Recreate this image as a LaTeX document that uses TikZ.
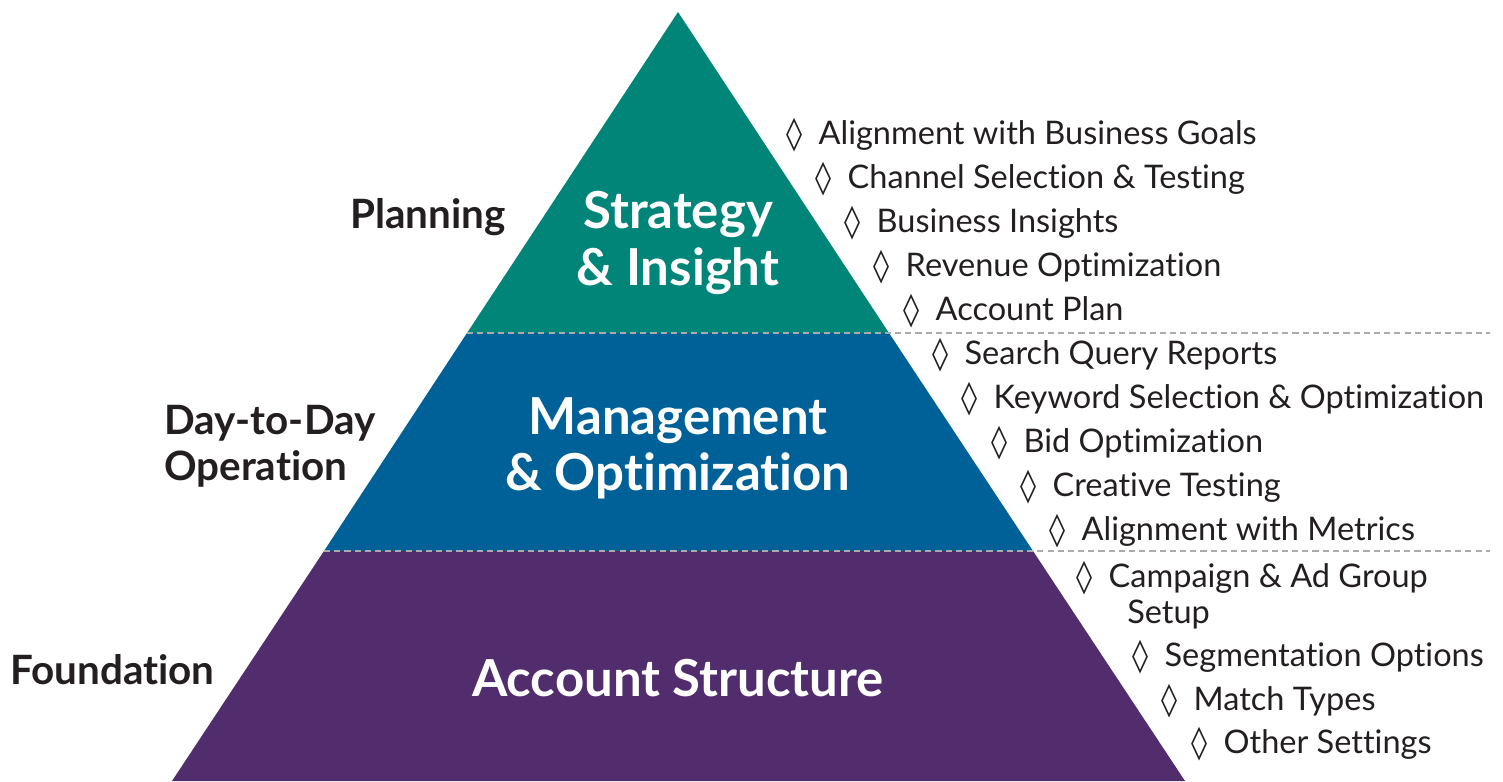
\documentclass[tikz,border=0pt]{standalone}
\usepackage{fontspec}
\setmainfont{Lato}[Ligatures=NoCommon]
\newfontfamily\symfont{DejaVu Sans}
\definecolor{tealS}{RGB}{0,133,120}
\definecolor{blueM}{RGB}{0,97,153}
\definecolor{purpleA}{RGB}{82,45,109}
\definecolor{inkD}{RGB}{35,31,32}
\definecolor{dashG}{RGB}{170,170,170}
\usetikzlibrary{positioning}
\newcommand{\dia}{{\symfont\char"25CA}\hspace{0.5em}}

\tikzset{
  layer/.style={text=white, font=\fontsize{29}{32}\selectfont\bfseries, align=center},
  side/.style={text=inkD, font=\fontsize{23}{26}\selectfont\bfseries},
  item/.style={text=inkD, font=\fontsize{18.5}{21}\selectfont, anchor=west, inner sep=0pt},
  split/.style={draw=dashG, line width=0.9pt, dash pattern=on 3.5pt off 2.3pt}
}

\begin{document}
\begin{tikzpicture}[x=0.02cm, y=-0.02cm]
  \useasboundingbox (0,0) rectangle (1503,781);

  % pyramid corners
  \coordinate (apex) at (678,12);
  \coordinate (l1) at (467,333);
  \coordinate (r1) at (889,333);
  \coordinate (l2) at (324,551);
  \coordinate (r2) at (1033,551);
  \coordinate (bl) at (172,781);
  \coordinate (br) at (1185,781);
  \coordinate (e1) at (1490,333);
  \coordinate (e2) at (1490,551);

  \fill[tealS] (apex) -- (l1) -- (r1) -- cycle;
  \fill[blueM] (l1) -- (l2) -- (r2) -- (r1) -- cycle;
  \fill[purpleA] (l2) -- (bl) -- (br) -- (r2) -- cycle;
  \draw[split] (l1) -- (e1);
  \draw[split] (l2) -- (e2);

  % layer names
  \node[layer] (strategy) at (678,243) {Strategy\\\& Insight};
  \node[layer] (manage) at (678,448) {Management\\\& Optimization};
  \node[layer] (account) at (678,678) {Account Structure};

  % left labels
  \node[side, anchor=east] (planning) at (512,217) {Planning};
  \node[side, anchor=west, align=left] (daily) at (158,446) {Day-to-Day\\Operation};
  \node[side, anchor=west] (found) at (4,670) {Foundation};

  % right hand lists
  \node[item] (goals) at (786,135) {\dia Alignment with Business Goals};
  \node[item] (channel) at (815,179) {\dia Channel Selection \& Testing};
  \node[item] (insights) at (844,223) {\dia Business Insights};
  \node[item] (revenue) at (873,267) {\dia Revenue Optimization};
  \node[item] (plan) at (903,311) {\dia Account Plan};
  \node[item] (query) at (932,355) {\dia Search Query Reports};
  \node[item] (keyword) at (961,399) {\dia Keyword Selection \& Optimization};
  \node[item] (bid) at (991,443) {\dia Bid Optimization};
  \node[item] (creative) at (1020,487) {\dia Creative Testing};
  \node[item] (metrics) at (1049,531) {\dia Alignment with Metrics};
  \node[item, align=left, anchor=north west] (campaign) at (1076,561)
    {\dia Campaign \& Ad Group\\[-0.5pt]\hspace{29pt}Setup};
  \node[item] (segment) at (1132,657) {\dia Segmentation Options};
  \node[item] (match) at (1161,701) {\dia Match Types};
  \node[item] (other) at (1191,744) {\dia Other Settings};
\end{tikzpicture}
\end{document}
